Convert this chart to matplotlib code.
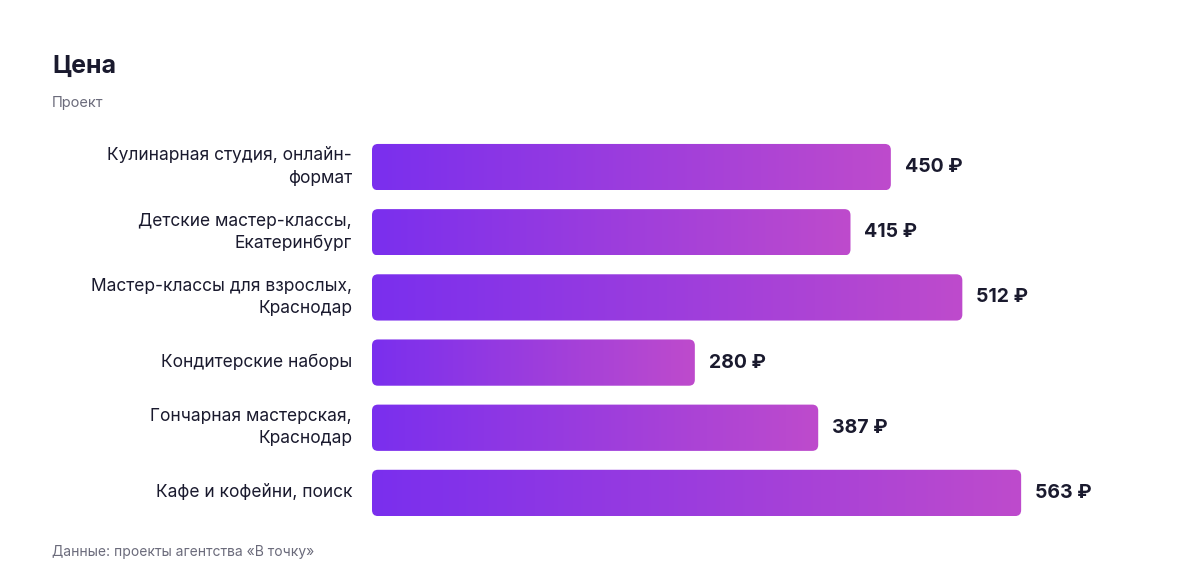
import numpy as np
import matplotlib.pyplot as plt
from matplotlib.patches import FancyBboxPatch
from matplotlib.colors import LinearSegmentedColormap

plt.rcParams['font.family'] = ['Inter', 'DejaVu Sans']

categories = [
    "Кулинарная студия, онлайн-\nформат",
    "Детские мастер-классы,\nЕкатеринбург",
    "Мастер-классы для взрослых,\nКраснодар",
    "Кондитерские наборы",
    "Гончарная мастерская,\nКраснодар",
    "Кафе и кофейни, поиск",
]
prices = [450, 415, 512, 280, 387, 563]

W, H = 1200, 584
fig = plt.figure(figsize=(12, 5.84), dpi=100)
ax = fig.add_axes([372 / W, 1 - 525.5 / H, (W - 372) / W, 391 / H])
ax.set_xlim(0, (W - 372) / 1.153)
ax.set_ylim(5.5, -0.5)
ax.axis('off')

cmap = LinearSegmentedColormap.from_list('g', ['#7A2FEE', '#BE4BCC'])
grad = np.linspace(0, 1, 256).reshape(1, -1)
bar_h = 0.71
r = 6 / 1.153
for i, (cat, v) in enumerate(zip(categories, prices)):
    y0 = i - bar_h / 2
    patch = FancyBboxPatch((0, y0), v, bar_h,
                           boxstyle=f"round,pad=0,rounding_size={r}",
                           mutation_aspect=(6 / 65) / r,
                           linewidth=0, facecolor='none')
    ax.add_patch(patch)
    im = ax.imshow(grad, cmap=cmap, aspect='auto',
                   extent=(0, v, y0 + bar_h, y0), zorder=2)
    im.set_clip_path(patch)
    ax.text(v + 12, i, f"{v} ₽", va='center', ha='left',
            fontsize=14, fontweight='bold', color='#1a1a2e')
    ax.text(-20 / 1.153, i, cat, va='center', ha='right',
            fontsize=12.5, color='#1a1a2e', linespacing=1.4, clip_on=False)

ax.set_xlim(0, (W - 372) / 1.153)
ax.set_ylim(5.5, -0.5)

fig.text(52 / W, 1 - 66 / H, "Цена", fontsize=18, fontweight='bold',
         color='#1a1a2e', va='center')
fig.text(52 / W, 1 - 103 / H, "Проект", fontsize=10.5, color='#6b6b7b', va='center')
fig.text(52 / W, 1 - 552 / H, "Данные: проекты агентства «В точку»",
         fontsize=10, color='#6b6b7b', va='center')

fig.savefig('out.png', dpi=100)
